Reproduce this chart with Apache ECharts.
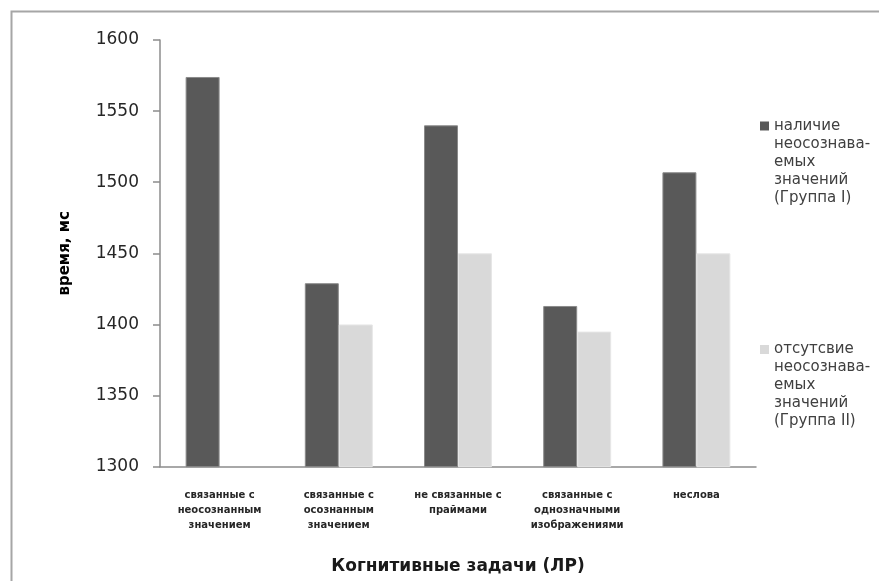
<!DOCTYPE html>
<html>
<head>
<meta charset="utf-8">
<script src="https://cdn.jsdelivr.net/npm/echarts@6/dist/echarts.min.js"></script>
<style>
  html, body { margin: 0; padding: 0; background: #ffffff; }
  #chart { width: 879px; height: 581px; }
</style>
</head>
<body>
<div id="chart"></div>
<script>
// Categories of cognitive tasks (lexical decision)
var categories = [
  'связанные с\nнеосознанным\nзначением',
  'связанные с\nосознанным\nзначением',
  'не связанные с\nпраймами',
  'связанные с\nоднозначными\nизображениями',
  'неслова'
];

// Mean response time, ms
var groupOne = [1574, 1429, 1540, 1413, 1507];
var groupTwo = [null, 1400, 1450, 1395, 1450];

var seriesNames = [
  'наличие неосознаваемых значений (Группа I)',
  'отсутсвие неосознаваемых значений (Группа II)'
];
var legendLabels = [
  'наличие\nнеосознава-\nемых\nзначений\n(Группа I)',
  'отсутсвие\nнеосознава-\nемых\nзначений\n(Группа II)'
];

var yTicks = { min: 1300, max: 1600, step: 50 };

var chart = echarts.init(document.getElementById('chart'), null, { renderer: 'canvas' });

// Legend text is centred on its marker; four empty lines on top
// put the first text line level with the square marker.
function legendFor(idx, top) {
  return {
    data: [seriesNames[idx]],
    orient: 'vertical',
    left: 760,
    top: top,
    padding: 0,
    itemWidth: 9,
    itemHeight: 9,
    itemGap: 0,
    icon: 'rect',
    selectedMode: false,
    itemStyle: { borderWidth: 0 },
    formatter: function () { return ' \n \n \n \n' + legendLabels[idx]; },
    textStyle: {
      fontFamily: 'DejaVu Sans',
      fontSize: 15,
      lineHeight: 18,
      color: '#404040'
    }
  };
}

chart.setOption({
  animation: false,
  backgroundColor: '#ffffff',
  textStyle: { fontFamily: 'DejaVu Sans' },
  graphic: [{
    type: 'rect',
    shape: { x: 11.5, y: 11.5, width: 900, height: 600 },
    style: { fill: 'none', stroke: '#a6a6a6', lineWidth: 2 },
    silent: true
  }],
  grid: { left: 160, right: 123, top: 40, bottom: 114.3, containLabel: false },
  legend: [legendFor(0, 45), legendFor(1, 268.5)],
  xAxis: {
    type: 'category',
    data: categories,
    name: 'Когнитивные задачи (ЛР)',
    nameLocation: 'middle',
    nameGap: 91,
    nameTextStyle: { fontFamily: 'DejaVu Sans', fontSize: 17, color: '#1a1a1a', fontWeight: 'bold' },
    axisLine: { show: true, lineStyle: { color: '#8c8c8c', width: 1.5 } },
    axisTick: { show: false },
    axisLabel: {
      interval: 0,
      margin: 21,
      fontFamily: 'DejaVu Sans',
      fontSize: 10,
      lineHeight: 15,
      color: '#262626',
      fontWeight: 'bold'
    },
    splitLine: { show: false }
  },
  yAxis: {
    type: 'value',
    min: yTicks.min,
    max: yTicks.max,
    interval: yTicks.step,
    name: 'время, мс',
    nameLocation: 'middle',
    nameGap: 87,
    nameRotate: 90,
    nameTextStyle: { fontFamily: 'DejaVu Sans', fontSize: 15, fontWeight: 'bold', color: '#000000' },
    axisLine: { show: true, lineStyle: { color: '#8c8c8c', width: 1.5 } },
    axisTick: { show: true, inside: false, length: 7, lineStyle: { color: '#8c8c8c', width: 1.5 } },
    axisLabel: {
      margin: 21,
      fontFamily: 'DejaVu Sans',
      fontSize: 17,
      color: '#262626',
      formatter: function (v) { return String(v); }
    },
    splitLine: { show: false }
  },
  series: [
    {
      name: seriesNames[0],
      type: 'bar',
      data: groupOne,
      barGap: '0%',
      barCategoryGap: '43%',
      itemStyle: { color: '#595959', borderColor: '#8a8a8a', borderWidth: 1 }
    },
    {
      name: seriesNames[1],
      type: 'bar',
      data: groupTwo,
      barGap: '0%',
      barCategoryGap: '43%',
      itemStyle: { color: '#d9d9d9', borderColor: '#e6e6e6', borderWidth: 1 }
    }
  ]
});
</script>
</body>
</html>
